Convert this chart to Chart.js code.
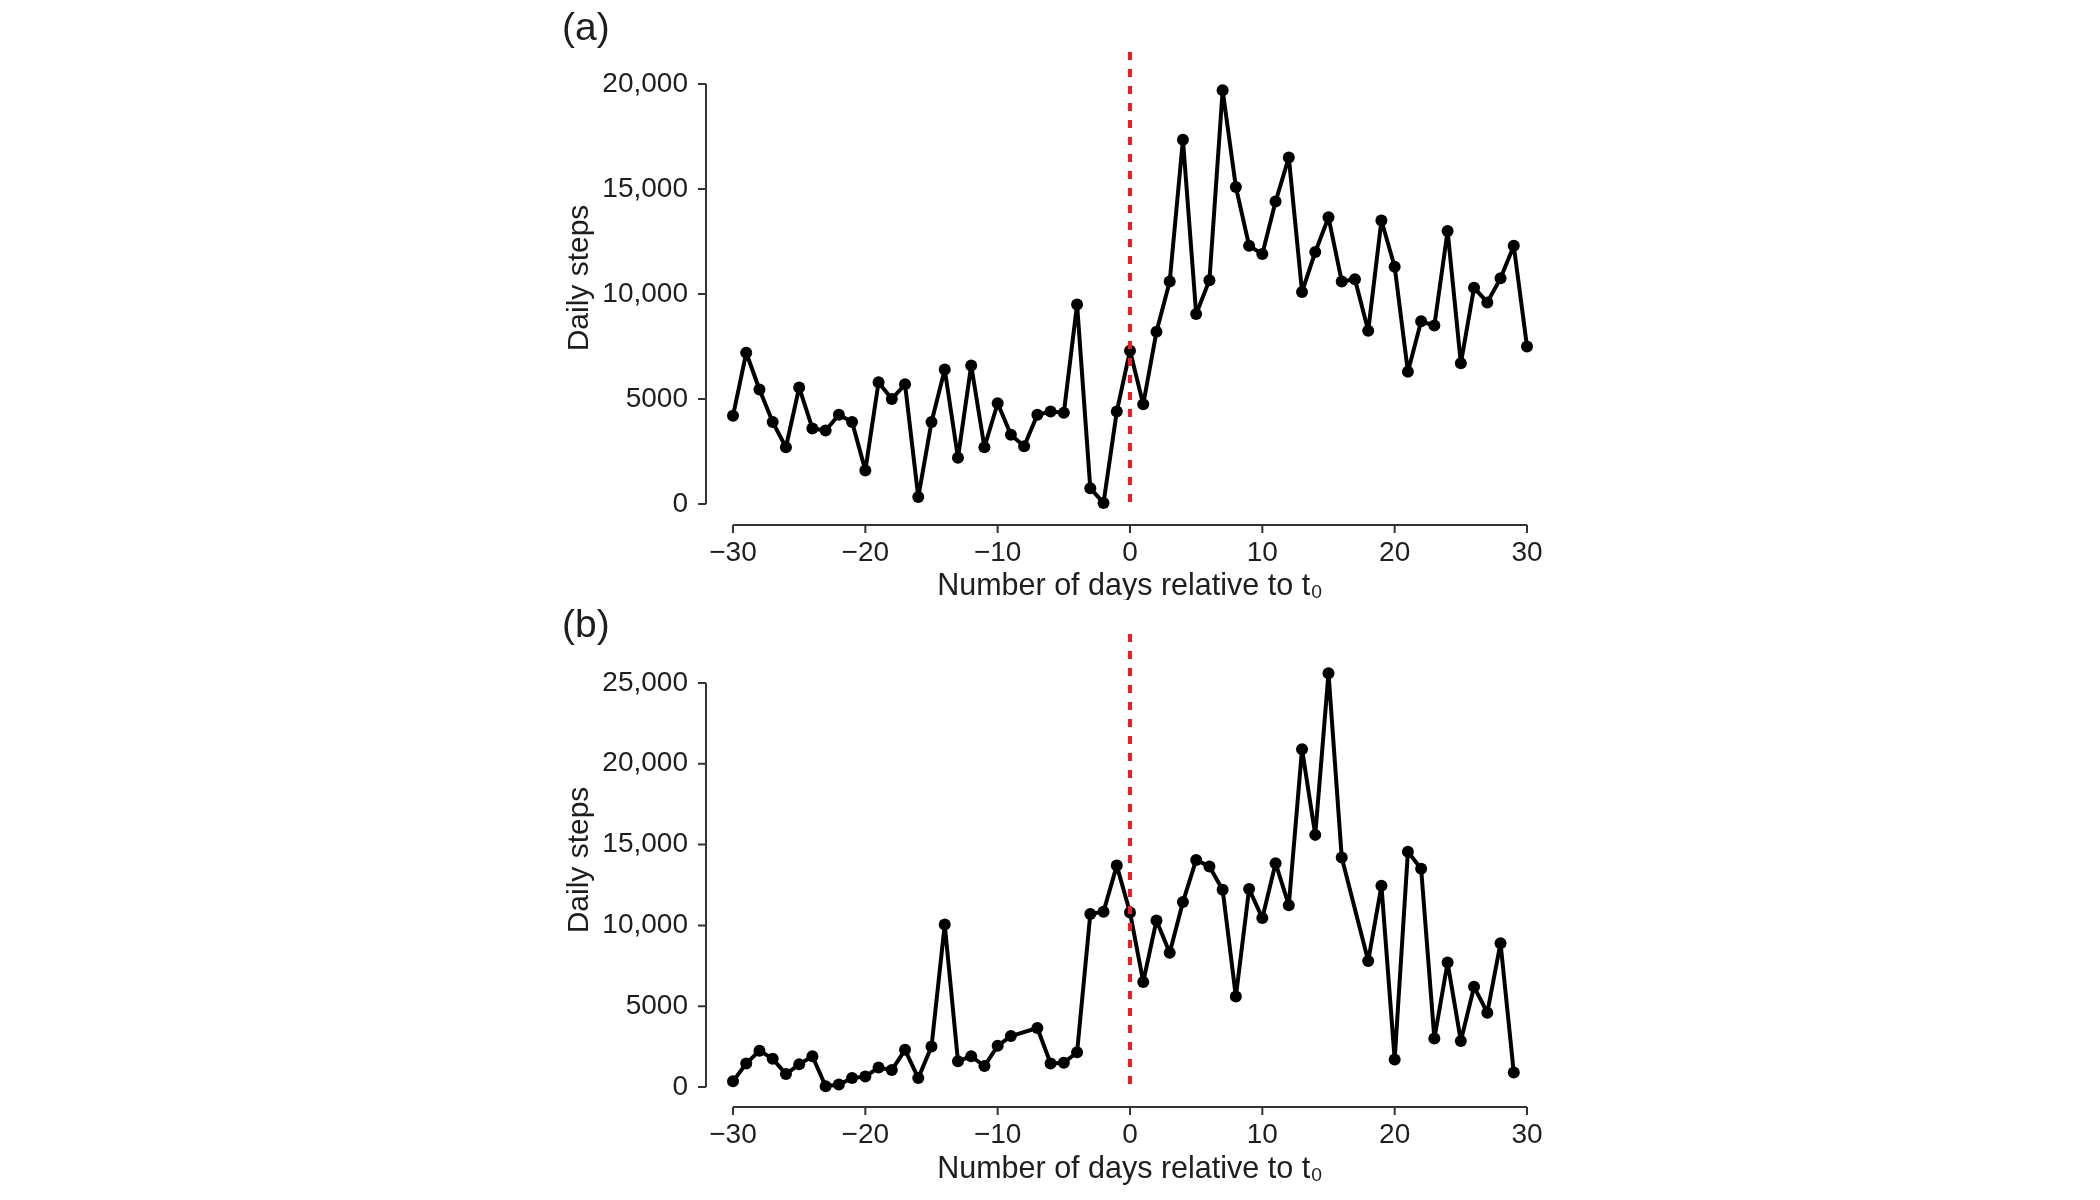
<!DOCTYPE html>
<html>
<head>
<meta charset="utf-8">
<script src="https://cdn.jsdelivr.net/npm/chart.js@4.4.1/dist/chart.umd.min.js"></script>
<style>
  html, body { margin: 0; padding: 0; background: #ffffff; }
  body { width: 2100px; height: 1200px; position: relative; overflow: hidden; }
  .panel { position: absolute; left: 0; width: 2100px; height: 600px; }
</style>
</head>
<body>
<div class="panel" style="top:0px"><canvas id="chartA" width="2100" height="600"></canvas></div>
<div class="panel" style="top:600px"><canvas id="chartB" width="2100" height="600"></canvas></div>
<script>
// ---- Data ----
const days = [-30,-29,-28,-27,-26,-25,-24,-23,-22,-21,-20,-19,-18,-17,-16,-15,-14,-13,-12,-11,-10,-9,-8,-7,-6,-5,-4,-3,-2,-1,0,1,2,3,4,5,6,7,8,9,10,11,12,13,14,15,16,17,18,19,20,21,22,23,24,25,26,27,28,29,30];

const stepsA = [4200,7200,5450,3900,2700,5550,3600,3500,4250,3900,1600,5800,5000,5700,330,3900,6400,2200,6600,2700,4800,3300,2750,4250,4400,4350,9500,750,50,4400,7300,
                4750,8200,10600,17350,9050,10650,19700,15100,12300,11900,14400,16500,10100,12000,13650,10600,10700,8250,13500,11300,6300,8700,8500,13000,6700,10300,9600,10750,12300,7500];

const stepsB = [350,1450,2250,1750,800,1400,1900,50,150,550,650,1200,1050,2300,550,2500,10050,1600,1900,1300,2550,3150,null,3650,1450,1500,2150,10700,10850,13700,10800,
                6500,10300,8300,11450,14050,13650,12200,5600,12250,10450,13850,11250,20900,15600,25600,14200,null,7800,12450,1700,14550,13500,3000,7700,2850,6200,4600,8900,900,null];

const xTicks = [-30,-20,-10,0,10,20,30];
const yTicksA = [0,5000,10000,15000,20000];
const yTicksB = [0,5000,10000,15000,20000,25000];
const yMaxA = 20000;
const yMaxB = 26000;
const t0Day = 0;

const panelLabels = ['(a)', '(b)'];
const xTitle = 'Number of days relative to t\u2080';
const yTitle = 'Daily steps';

// ---- Styling ----
const FONT = '"Liberation Sans", Arial, Helvetica, sans-serif';
const TEXT = '#1e1e1e';
const AXIS = '#333333';

function fmtY(v) {
  return v >= 10000 ? v.toLocaleString('en-US') : String(v);
}
function fmtX(v) {
  return v < 0 ? '\u2212' + Math.abs(v) : String(v);
}

function makeChart(id, steps, yTicks, yMax, cfg) {
  const points = days.map((d, i) => ({ x: d, y: steps[i] }));

  const decor = {
    id: 'decor' + id,
    afterDatasetsDraw(chart) {
      const ctx = chart.ctx;
      const xs = chart.scales.x, ys = chart.scales.y;
      const y0 = ys.getPixelForValue(0);
      const yTop = ys.getPixelForValue(yTicks[yTicks.length - 1]);
      const xL = xs.getPixelForValue(xTicks[0]);
      const xR = xs.getPixelForValue(xTicks[xTicks.length - 1]);
      ctx.save();
      // detached y spine
      const sx = xL - 27;
      ctx.strokeStyle = AXIS;
      ctx.lineWidth = 2;
      ctx.beginPath();
      ctx.moveTo(sx, y0);
      ctx.lineTo(sx, yTop);
      yTicks.forEach(v => {
        const py = ys.getPixelForValue(v);
        ctx.moveTo(sx, py);
        ctx.lineTo(sx - 8, py);
      });
      ctx.stroke();
      // detached x spine
      const sy = y0 + cfg.xSpineGap;
      ctx.beginPath();
      ctx.moveTo(xL, sy);
      ctx.lineTo(xR, sy);
      xTicks.forEach(v => {
        const px = xs.getPixelForValue(v);
        ctx.moveTo(px, sy);
        ctx.lineTo(px, sy + 8);
      });
      ctx.stroke();
      // red dashed reference line at t0
      const rx = xs.getPixelForValue(t0Day);
      ctx.strokeStyle = '#ee1c24';
      ctx.lineWidth = 4;
      ctx.setLineDash([8, 9]);
      ctx.beginPath();
      ctx.moveTo(rx, yTop - cfg.refAbove);
      ctx.lineTo(rx, y0 + cfg.refBelow);
      ctx.stroke();
      ctx.setLineDash([]);
      // y title
      ctx.fillStyle = TEXT;
      ctx.font = '30px ' + FONT;
      ctx.textAlign = 'center';
      ctx.textBaseline = 'middle';
      ctx.translate(580, cfg.yTitleY);
      ctx.rotate(-Math.PI / 2);
      ctx.fillText(yTitle, 0, 0);
      ctx.restore();
      // panel label
      ctx.save();
      ctx.fillStyle = TEXT;
      ctx.font = '39px ' + FONT;
      ctx.textAlign = 'left';
      ctx.textBaseline = 'alphabetic';
      ctx.fillText(cfg.label, 562, cfg.labelY);
      ctx.restore();
    }
  };

  return new Chart(document.getElementById(id), {
    type: 'scatter',
    data: {
      datasets: [{
        data: points,
        showLine: true,
        spanGaps: true,
        borderColor: '#000000',
        borderWidth: 4,
        borderJoinStyle: 'round',
        borderCapStyle: 'round',
        tension: 0,
        pointRadius: 6,
        pointHoverRadius: 6,
        pointBackgroundColor: '#000000',
        pointBorderWidth: 0,
        clip: false
      }]
    },
    options: {
      responsive: false,
      animation: false,
      devicePixelRatio: 1,
      events: [],
      layout: { padding: { left: 600, right: 573, top: cfg.padTop, bottom: cfg.padBottom } },
      plugins: { legend: { display: false }, tooltip: { enabled: false } },
      scales: {
        x: {
          type: 'linear',
          min: xTicks[0],
          max: xTicks[xTicks.length - 1],
          afterFit(scale) { scale.height = cfg.xHeight; },
          afterBuildTicks(scale) { scale.ticks = xTicks.map(v => ({ value: v })); },
          grid: { display: false, drawTicks: false },
          border: { display: false },
          ticks: {
            callback: fmtX,
            color: TEXT,
            padding: cfg.xTickPad,
            maxRotation: 0,
            autoSkip: false,
            font: { family: FONT, size: 28, lineHeight: 1.2 }
          },
          title: {
            display: true,
            text: xTitle,
            color: TEXT,
            padding: 0,
            font: { family: FONT, size: 30.5, lineHeight: 0.9 }
          }
        },
        y: {
          type: 'linear',
          min: yTicks[0],
          max: yMax,
          afterFit(scale) { scale.width = 133; },
          afterBuildTicks(scale) { scale.ticks = yTicks.map(v => ({ value: v })); },
          grid: { display: false, drawTicks: false },
          border: { display: false },
          ticks: {
            callback: fmtY,
            color: TEXT,
            padding: 45,
            autoSkip: false,
            font: { family: FONT, size: 28, lineHeight: 1.2 }
          }
        }
      }
    },
    plugins: [decor]
  });
}

makeChart('chartA', stepsA, yTicksA, yMaxA, {
  padTop: 84, padBottom: 0, xHeight: 96, xTickPad: 32, xSpineGap: 21,
  refAbove: 32, refBelow: 6, yTitleY: 278, label: panelLabels[0], labelY: 40
});
makeChart('chartB', stepsB, yTicksB, yMaxB, {
  padTop: 66.8, padBottom: 16.5, xHeight: 96.5, xTickPad: 31, xSpineGap: 20,
  refAbove: 49, refBelow: 5, yTitleY: 260, label: panelLabels[1], labelY: 37
});
</script>
</body>
</html>
